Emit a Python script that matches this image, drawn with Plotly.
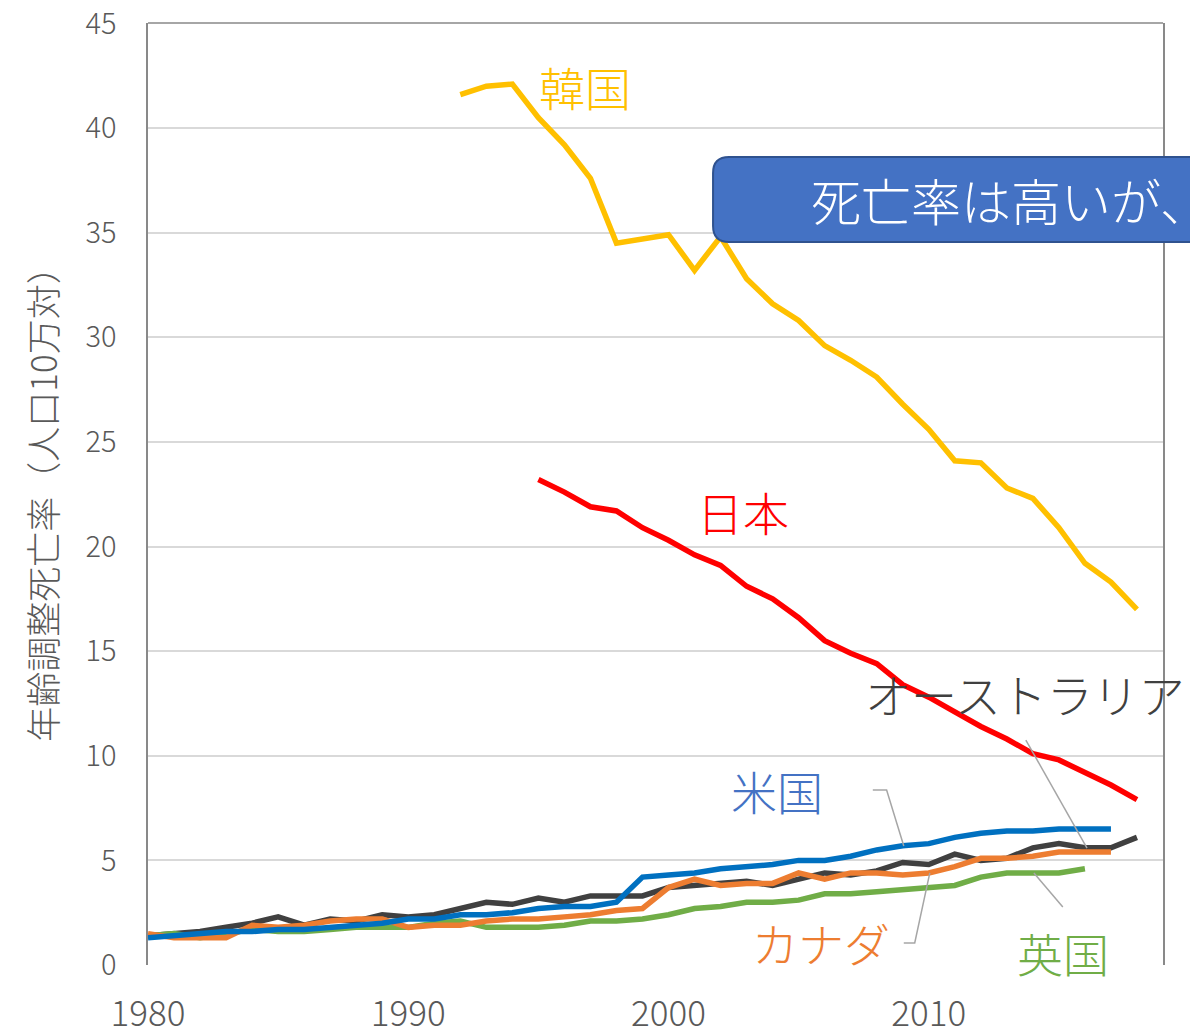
import plotly.graph_objects as go

years = list(range(1980, 2019))

# values (None = no data for that year)
korea = [None] * 12 + [
    41.6, 42.0, 42.1, 40.5, 39.2, 37.6, 34.5, 34.7, 34.9, 33.2,
    34.8, 32.8, 31.6, 30.8, 29.6, 28.9, 28.1, 26.8, 25.6, 24.1,
    24.0, 22.8, 22.3, 20.9, 19.2, 18.3, 17.0,
]
japan = [None] * 15 + [
    23.2, 22.6, 21.9, 21.7, 20.9, 20.3, 19.6, 19.1, 18.1, 17.5,
    16.6, 15.5, 14.9, 14.4, 13.4, 12.8, 12.1, 11.4, 10.8, 10.1,
    9.8, 9.2, 8.6, 7.9,
]
australia = [
    1.4, 1.5, 1.6, 1.8, 2.0, 2.3, 1.9, 2.2, 2.1, 2.4,
    2.3, 2.4, 2.7, 3.0, 2.9, 3.2, 3.0, 3.3, 3.3, 3.3,
    3.7, 3.8, 3.9, 4.0, 3.8, 4.1, 4.4, 4.3, 4.5, 4.9,
    4.8, 5.3, 5.0, 5.1, 5.6, 5.8, 5.6, 5.6, 6.1,
]
usa = [
    1.3, 1.4, 1.5, 1.6, 1.6, 1.7, 1.7, 1.8, 1.9, 2.0,
    2.2, 2.2, 2.4, 2.4, 2.5, 2.7, 2.8, 2.8, 3.0, 4.2,
    4.3, 4.4, 4.6, 4.7, 4.8, 5.0, 5.0, 5.2, 5.5, 5.7,
    5.8, 6.1, 6.3, 6.4, 6.4, 6.5, 6.5, 6.5, None,
]
canada = [
    1.5, 1.3, 1.3, 1.3, 1.9, 1.8, 1.9, 2.1, 2.2, 2.2,
    1.8, 1.9, 1.9, 2.1, 2.2, 2.2, 2.3, 2.4, 2.6, 2.7,
    3.7, 4.1, 3.8, 3.9, 3.9, 4.4, 4.1, 4.4, 4.4, 4.3,
    4.4, 4.7, 5.1, 5.1, 5.2, 5.4, 5.4, 5.4, None,
]
uk = [
    1.4, 1.5, 1.3, 1.5, 1.7, 1.6, 1.6, 1.7, 1.8, 1.8,
    1.8, 2.0, 2.1, 1.8, 1.8, 1.8, 1.9, 2.1, 2.1, 2.2,
    2.4, 2.7, 2.8, 3.0, 3.0, 3.1, 3.4, 3.4, 3.5, 3.6,
    3.7, 3.8, 4.2, 4.4, 4.4, 4.4, 4.6, None, None,
]

x_ticks = [1980, 1990, 2000, 2010]
y_ticks = list(range(0, 50, 5))

FONT = "Noto Sans CJK JP"
GREY_TEXT = "#595959"
LEADER = "#A6A6A6"

series = [
    ("韓国", korea, "#FFC000"),
    ("日本", japan, "#FF0000"),
    ("オーストラリア", australia, "#404040"),
    ("英国", uk, "#70AD47"),
    ("カナダ", canada, "#ED7D31"),
    ("米国", usa, "#0070C0"),
]

# label text, position (data coords), colour
labels = [
    ("韓国", 1996.8, 42.0, "#FFC000"),
    ("日本", 2002.85, 21.7, "#FF0000"),
    ("オーストラリア", 2013.7, 13.0, "#404040"),
    ("米国", 2004.15, 8.36, "#4472C4"),
    ("カナダ", 2005.85, 1.1, "#ED7D31"),
    ("英国", 2015.15, 0.62, "#70AD47"),
]

# leader lines from label to series, data coords
leaders = [
    [(2007.85, 8.36), (2008.38, 8.36), (2009.04, 5.69)],
    [(2009.04, 1.05), (2009.46, 1.05), (2010.04, 4.40)],
    [(2013.73, 10.75), (2016.08, 5.59)],
    [(2014.04, 4.40), (2015.15, 2.77)],
]

fig = go.Figure()

for name, values, colour in series:
    fig.add_trace(
        go.Scatter(
            x=years,
            y=values,
            name=name,
            mode="lines",
            line=dict(color=colour, width=5.5),
            connectgaps=False,
        )
    )

for text, lx, ly, colour in labels:
    fig.add_annotation(
        x=lx, y=ly, xref="x", yref="y",
        text=text, showarrow=False,
        xanchor="center", yanchor="middle",
        font=dict(family=FONT, size=46, color=colour, weight=300),
    )

for points in leaders:
    path = "M " + " L ".join(f"{px},{py}" for px, py in points)
    fig.add_shape(
        type="path", path=path, xref="x", yref="y",
        line=dict(color=LEADER, width=1.5),
    )

# top edge of the plot frame
fig.add_shape(
    type="line", xref="paper", yref="paper",
    x0=0, x1=1, y0=1, y1=1,
    line=dict(color="#898989", width=1.5),
)

# rounded callout box running off the right edge
bx0, bx1 = 0.5567, 1.10
by0, by1 = 0.7675, 0.8577
rx, ry = 16 / 1015, 16 / 942
box = (
    f"M {bx0 + rx},{by1} L {bx1},{by1} L {bx1},{by0} L {bx0 + rx},{by0} "
    f"Q {bx0},{by0} {bx0},{by0 + ry} L {bx0},{by1 - ry} "
    f"Q {bx0},{by1} {bx0 + rx},{by1} Z"
)
fig.add_shape(
    type="path", path=box, xref="paper", yref="paper",
    fillcolor="#4472C4", line=dict(color="#2F528F", width=2),
    layer="above",
)
fig.add_annotation(
    x=0.6515, y=0.813, xref="paper", yref="paper",
    text="死亡率は高いが、", showarrow=False,
    xanchor="left", yanchor="middle",
    font=dict(family=FONT, size=50, color="white", weight=300),
)

# y axis title
fig.add_annotation(
    x=-0.1045, y=0.498, xref="paper", yref="paper",
    text="年齢調整死亡率（人口10万対）", showarrow=False,
    textangle=-90, xanchor="center", yanchor="middle",
    font=dict(family=FONT, size=35, color=GREY_TEXT, weight=300),
)

fig.update_layout(
    width=1190,
    height=1031,
    margin=dict(l=148, r=27, t=23, b=66, autoexpand=False),
    paper_bgcolor="white",
    plot_bgcolor="white",
    showlegend=False,
    font=dict(family=FONT, color=GREY_TEXT),
)

fig.update_xaxes(
    range=[1980, 2019],
    tickvals=x_ticks,
    ticktext=[str(t) for t in x_ticks],
    showgrid=False,
    zeroline=False,
    showline=False,
    ticks="",
    automargin=False,
    ticklabelstandoff=25,
    ticklabeloverflow="allow",
    tickfont=dict(family=FONT, size=35, color=GREY_TEXT, weight=300),
)

fig.update_yaxes(
    range=[0, 45.02],
    tickvals=y_ticks,
    showgrid=True,
    gridcolor="#D9D9D9",
    gridwidth=1.5,
    zeroline=False,
    showline=True,
    mirror=True,
    linecolor="#898989",
    linewidth=1.5,
    ticks="",
    automargin=False,
    ticklabelstandoff=24,
    ticklabeloverflow="allow",
    tickfont=dict(family=FONT, size=29, color=GREY_TEXT, weight=300),
)

# drop the default page margin so the figure fills the window exactly
fig.write_html(
    "out.html",
    config={"displayModeBar": False},
    post_script="document.body.style.margin='0';document.body.style.overflow='hidden';",
)
